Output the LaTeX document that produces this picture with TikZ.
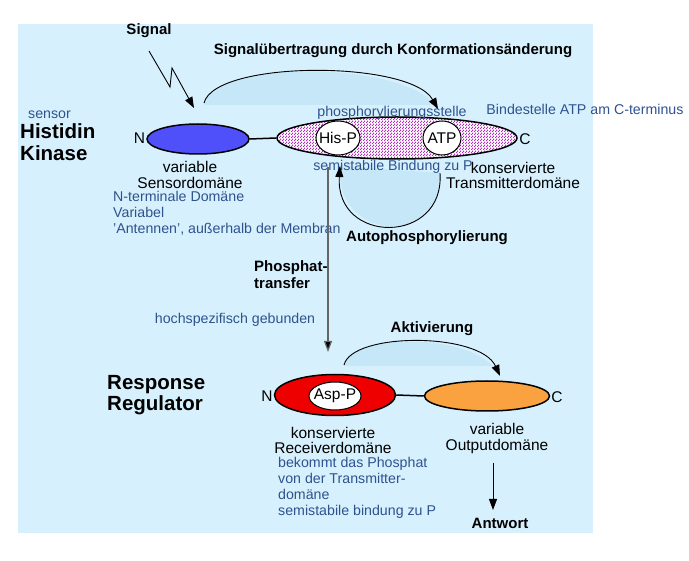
\documentclass[tikz,border=0pt]{standalone}
\usepackage{fontspec}
\setmainfont{Liberation Sans}
\usetikzlibrary{arrows.meta,patterns,shapes.geometric}
\definecolor{bgblue}{RGB}{214,241,253}
\definecolor{arcblue}{RGB}{198,231,248}
\definecolor{txtblue}{RGB}{47,82,143}
\definecolor{sensblue}{RGB}{80,80,250}
\definecolor{dotpurple}{RGB}{178,45,188}
\definecolor{outorange}{RGB}{250,162,64}
\definecolor{recred}{RGB}{238,0,0}
\pgfdeclarepatternformonly{densesquares}{\pgfqpoint{0pt}{0pt}}{\pgfqpoint{3pt}{3pt}}{\pgfqpoint{3pt}{3pt}}{%
  \pgfpathrectangle{\pgfqpoint{0pt}{0pt}}{\pgfqpoint{1.45pt}{1.45pt}}%
  \pgfpathrectangle{\pgfqpoint{1.5pt}{1.5pt}}{\pgfqpoint{1.45pt}{1.45pt}}%
  \pgfusepath{fill}}
\begin{document}
\begin{tikzpicture}[x=1pt,y=-1pt,
  dom/.style={ellipse, draw=black, line width=1.5pt, inner sep=0pt},
  site/.style={ellipse, draw=black, line width=1pt, fill=white, inner sep=0pt},
  lbl/.style={inner sep=0pt, font=\fontsize{15.5}{15.5}\selectfont, align=center},
  blu/.style={inner sep=0pt, text=txtblue, font=\fontsize{14.2}{16}\selectfont, align=left},
  bld/.style={inner sep=0pt, font=\bfseries\fontsize{15}{17}\selectfont, align=left},
  big/.style={inner sep=0pt, font=\bfseries\fontsize{20.5}{21.5}\selectfont, align=left},
  arr/.style={draw=black, line width=0.9pt, -{Triangle[length=11pt,width=8pt]}},
  arcfill/.style={fill=arcblue}]
\useasboundingbox (0,0) rectangle (689,561);
\fill[bgblue] (18,24) rectangle (593,533);

% coordinates of arc ends
\coordinate (sa1) at (204,103);
\coordinate (sa2) at (438,109);
\coordinate (ap1) at (440,173);
\coordinate (ap2) at (340,166);
\coordinate (ak1) at (344,365);
\coordinate (ak2) at (500,376);
\coordinate (zz0) at (149,51);
\coordinate (zz3) at (194,108);
\coordinate (pt1) at (328,167);
\coordinate (pt2) at (328,352);
\coordinate (an1) at (493,463);
\coordinate (an2) at (493,510);

% arc fills
\begin{scope}
\clip (0,0) rectangle (689,105);
\fill[arcfill] (sa1) .. controls (215,60) and (410,60) .. (sa2) -- (438,120) -- (204,120) -- cycle;
\end{scope}
\fill[arcfill] (ap1) .. controls (445,245) and (335,245) .. (ap2) -- cycle;
\begin{scope}
\clip (0,0) rectangle (689,366);
\fill[arcfill] (ak1) .. controls (352,332) and (480,332) .. (ak2) -- (500,380) -- (344,380) -- cycle;
\end{scope}

% histidine kinase domains
\node[dom, fill=sensblue, minimum width=102pt, minimum height=30pt] (sensor) at (198,139) {};
\node[dom, preaction={fill=white}, pattern=densesquares, pattern color=dotpurple,
      minimum width=240pt, minimum height=42pt] (trans) at (397,138) {};
\draw[line width=1.5pt] (sensor.east) -- (trans.west);
\node[site, minimum width=44pt, minimum height=34pt] (hisp) at (338,138) {};
\node[lbl] at (hisp) {His-P};
\node[site, minimum width=38pt, minimum height=34pt] (atp) at (442,138) {};
\node[lbl] at (atp) {ATP};
\node[lbl] (n1) at (139.5,138) {N};
\node[lbl] (c1) at (525,139) {C};

% response regulator domains
\node[dom, fill=recred, minimum width=121pt, minimum height=41pt] (rec) at (335,395) {};
\node[dom, fill=outorange, minimum width=125pt, minimum height=30pt] (out) at (487,396) {};
\draw[line width=1.5pt] (rec.east) -- (out.west);
\node[site, minimum width=52pt, minimum height=28pt] (aspp) at (335,396) {};
\node[lbl] at (aspp) {Asp-P};
\node[lbl] (n2) at (267,396) {N};
\node[lbl] (c2) at (557,397) {C};

% texts
\node[bld] (signal) at (149,31) {Signal};
\node[bld] (title) at (393,51) {Signalübertragung durch Konformationsänderung};
\node[blu] (phos) at (392,113) {phosphorylierungsstelle};
\node[blu] (bind) at (585,109) {Bindestelle ATP am C-terminus};
\node[blu] (semi) at (393,167) {semistabile Bindung zu P};
\node[lbl] (kons1) at (513,175.5) {konservierte\\Transmitterdomäne};
\node[lbl] (var1) at (190,175) {variable\\Sensordomäne};
\node[blu, anchor=west] (nterm) at (113,213.5) {N-terminale Domäne\\Variabel\\'Antennen', außerhalb der Membran};
\node[blu] (sens) at (49.5,115) {sensor};
\node[big, anchor=west] (hk) at (20,142) {Histidin\\Kinase};
\node[bld] (auto) at (427,238) {Autophosphorylierung};
\node[bld, anchor=west] (ptr) at (254,275) {Phosphat-\\transfer};
\node[blu] (hoch) at (235,320) {hochspezifisch gebunden};
\node[bld] (akt) at (432,329) {Aktivierung};
\node[big, anchor=west] (rr) at (107,395) {Response\\Regulator};
\node[lbl] (kons2) at (333,440.5) {konservierte\\Receiverdomäne};
\node[lbl] (var2) at (497,438.5) {variable\\Outputdomäne};
\node[blu, anchor=west] (bek) at (278,488) {bekommt das Phosphat\\von der Transmitter-\\domäne\\semistabile bindung zu P};
\node[bld] (antw) at (500,523) {Antwort};

% arrows
\draw[arr] (zz0) -- (170,87) -- (172,68) -- (zz3);
\draw[arr] (sa1) .. controls (215,60) and (410,60) .. (sa2);
\draw[arr] (ap1) .. controls (445,245) and (335,245) .. (ap2);
\draw[arr] (ak1) .. controls (352,332) and (480,332) .. (ak2);
\draw[draw=black!60, line width=1.2pt, -{Triangle[length=11pt,width=8pt,fill=black]}] (pt1) -- (pt2);
\draw[arr] (an1) -- (an2);
\end{tikzpicture}
\end{document}
